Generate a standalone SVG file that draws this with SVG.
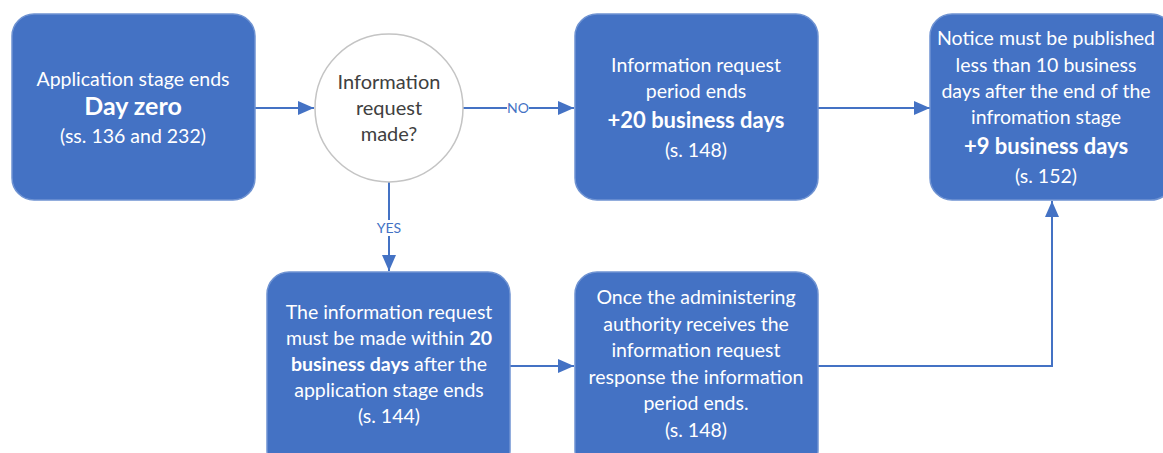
<svg xmlns="http://www.w3.org/2000/svg" width="1163" height="453" viewBox="0 0 1163 453">
  <style>
    .box { fill: #4472C4; stroke: #6f93d2; stroke-width: 1.5; }
    .dec { fill: #ffffff; stroke: #c4c4c4; stroke-width: 1.5; }
    .t { font-family: Lato, "Liberation Sans", sans-serif; font-size: 19.5px; fill: #ffffff; text-anchor: middle; }
    .b { font-weight: bold; font-size: 22px; }
    .big { font-size: 25px; }
    .q { font-family: Lato, "Liberation Sans", sans-serif; font-size: 20px; fill: #404040; text-anchor: middle; }
    .lbl { font-family: Lato, "Liberation Sans", sans-serif; font-size: 14px; fill: #4472C4; text-anchor: middle; }
    .conn { fill: none; stroke: #4472C4; stroke-width: 2; }
  </style>
  <defs>
    <marker id="arrow" viewBox="0 0 16 14" refX="16" refY="7" markerWidth="16" markerHeight="14" markerUnits="userSpaceOnUse" orient="auto">
      <path d="M0,0 L16,7 L0,14 Z" fill="#4472C4"/>
    </marker>
  </defs>

  <g id="connectors">
    <path class="conn" d="M255,108 H314" marker-end="url(#arrow)"/>
    <path class="conn" d="M463,108 H574" marker-end="url(#arrow)"/>
    <path class="conn" d="M818,108 H930" marker-end="url(#arrow)"/>
    <path class="conn" d="M389,182 V271" marker-end="url(#arrow)"/>
    <path class="conn" d="M510,366 H574" marker-end="url(#arrow)"/>
    <path class="conn" d="M818,366 H1052 V201" marker-end="url(#arrow)"/>
    <rect x="507" y="100" width="22" height="16" fill="#ffffff"/>
    <text class="lbl" x="518" y="113">NO</text>
    <rect x="375" y="220" width="28" height="16" fill="#ffffff"/>
    <text class="lbl" x="389" y="233">YES</text>
  </g>

  <g id="application-stage">
    <rect class="box" x="12" y="14" width="243" height="186" rx="22"/>
    <text class="t" x="133" y="86">Application stage ends</text>
    <text class="t b big" x="133" y="115">Day zero</text>
    <text class="t" x="133" y="143">(ss. 136 and 232)</text>
  </g>

  <g id="request-decision">
    <circle class="dec" cx="389" cy="108" r="74"/>
    <text class="q" x="389" y="89">Information</text>
    <text class="q" x="389" y="115">request</text>
    <text class="q" x="389" y="141">made?</text>
  </g>

  <g id="request-period-ends">
    <rect class="box" x="575" y="14" width="243" height="186" rx="22"/>
    <text class="t" x="696" y="72">Information request</text>
    <text class="t" x="696" y="98">period ends</text>
    <text class="t b" x="696" y="128">+20 business days</text>
    <text class="t" x="696" y="157">(s. 148)</text>
  </g>

  <g id="notice-published">
    <rect class="box" x="930" y="14" width="243" height="186" rx="22"/>
    <text class="t" x="1046" y="45">Notice must be published</text>
    <text class="t" x="1046" y="72">less than 10 business</text>
    <text class="t" x="1046" y="98">days after the end of the</text>
    <text class="t" x="1046" y="124">infromation stage</text>
    <text class="t b" x="1046" y="154">+9 business days</text>
    <text class="t" x="1046" y="183">(s. 152)</text>
  </g>

  <g id="request-made-within">
    <rect class="box" x="267" y="272" width="243" height="200" rx="22"/>
    <text class="t" x="389" y="319">The information request</text>
    <text class="t" x="389" y="345">must be made within <tspan font-weight="bold">20</tspan></text>
    <text class="t" x="389" y="371"><tspan font-weight="bold">business days</tspan> after the</text>
    <text class="t" x="389" y="397">application stage ends</text>
    <text class="t" x="389" y="423">(s. 144)</text>
  </g>

  <g id="response-received">
    <rect class="box" x="575" y="272" width="243" height="200" rx="22"/>
    <text class="t" x="696" y="304">Once the administering</text>
    <text class="t" x="696" y="331">authority receives the</text>
    <text class="t" x="696" y="357">information request</text>
    <text class="t" x="696" y="384">response the information</text>
    <text class="t" x="696" y="410">period ends.</text>
    <text class="t" x="696" y="437">(s. 148)</text>
  </g>
</svg>
